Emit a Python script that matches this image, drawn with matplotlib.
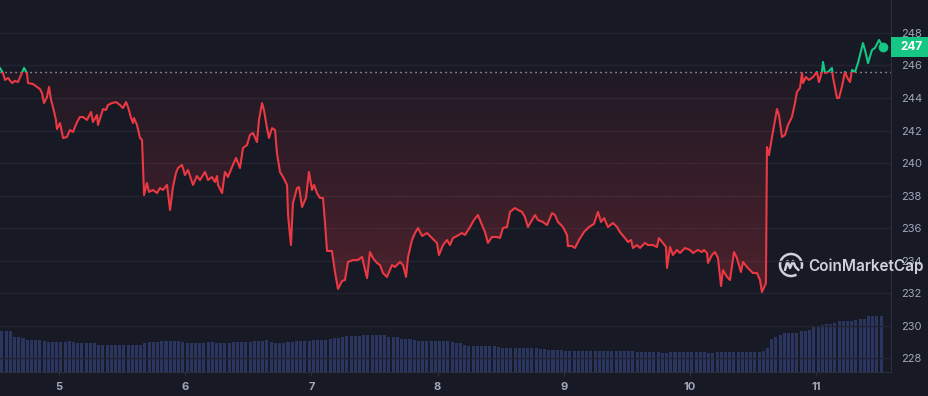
import numpy as np
import matplotlib
matplotlib.use("Agg")
import matplotlib.pyplot as plt
from matplotlib.patches import Rectangle, Circle, Arc, PathPatch
from matplotlib.path import Path
from matplotlib.transforms import blended_transform_factory, IdentityTransform

plt.rcParams['font.family'] = ['Inter', 'DejaVu Sans']

# price, x axis in days of the month
times = [4.533, 4.556, 4.572, 4.596, 4.628, 4.651, 4.675, 4.699, 4.723, 4.746,
         4.754, 4.794, 4.826, 4.849, 4.865, 4.881, 4.905, 4.921, 4.937, 4.952,
         4.976, 4.984, 5.008, 5.032, 5.063, 5.087, 5.111, 5.143, 5.166, 5.190,
         5.222, 5.254, 5.269, 5.301, 5.309, 5.349, 5.372, 5.388, 5.420, 5.452,
         5.483, 5.507, 5.531, 5.547, 5.571, 5.586, 5.594, 5.618, 5.642, 5.658,
         5.674, 5.697, 5.713, 5.745, 5.777, 5.800, 5.824, 5.856, 5.864, 5.880,
         5.903, 5.927, 5.943, 5.975, 5.998, 6.022, 6.062, 6.093, 6.117, 6.157,
         6.181, 6.212, 6.236, 6.252, 6.260, 6.292, 6.315, 6.339, 6.371, 6.403,
         6.434, 6.458, 6.490, 6.513, 6.537, 6.569, 6.585, 6.609, 6.624, 6.648,
         6.664, 6.688, 6.712, 6.727, 6.751, 6.775, 6.807, 6.815, 6.838, 6.854,
         6.886, 6.902, 6.926, 6.957, 6.981, 7.005, 7.021, 7.044, 7.068, 7.092,
         7.108, 7.124, 7.163, 7.187, 7.211, 7.243, 7.266, 7.290, 7.330, 7.369,
         7.401, 7.441, 7.464, 7.488, 7.520, 7.544, 7.567, 7.599, 7.639, 7.662,
         7.702, 7.726, 7.750, 7.766, 7.797, 7.821, 7.845, 7.877, 7.916, 7.956,
         7.995, 8.011, 8.043, 8.075, 8.098, 8.122, 8.154, 8.193, 8.217, 8.257,
         8.288, 8.320, 8.352, 8.376, 8.399, 8.431, 8.471, 8.494, 8.518, 8.550,
         8.574, 8.613, 8.637, 8.669, 8.692, 8.716, 8.748, 8.772, 8.796, 8.835,
         8.867, 8.907, 8.930, 8.954, 8.994, 9.025, 9.033, 9.065, 9.089, 9.120,
         9.160, 9.200, 9.239, 9.271, 9.295, 9.319, 9.350, 9.390, 9.422, 9.445,
         9.485, 9.509, 9.533, 9.548, 9.580, 9.604, 9.643, 9.667, 9.707, 9.738,
         9.754, 9.786, 9.810, 9.818, 9.842, 9.865, 9.897, 9.921, 9.960, 10.000,
         10.024, 10.063, 10.095, 10.111, 10.135, 10.143, 10.174, 10.198, 10.222, 10.246,
         10.262, 10.293, 10.317, 10.349, 10.372, 10.404, 10.420, 10.452, 10.475, 10.499,
         10.531, 10.555, 10.570, 10.602, 10.610, 10.626, 10.650, 10.674, 10.690, 10.705,
         10.729, 10.753, 10.777, 10.808, 10.832, 10.848, 10.872, 10.888, 10.896, 10.919,
         10.943, 10.975, 11.006, 11.022, 11.046, 11.054, 11.070, 11.094, 11.125, 11.133,
         11.165, 11.181, 11.204, 11.228, 11.244, 11.268, 11.284, 11.308, 11.331, 11.371,
         11.387, 11.411, 11.442, 11.466, 11.498, 11.529]
prices = [245.83, 245.54, 245.11, 245.23, 244.92, 245.05, 244.98, 245.42, 245.85, 245.54,
          244.92, 244.86, 244.68, 244.55, 244.31, 243.69, 244.06, 244.68, 243.88, 243.45,
          242.65, 242.09, 242.46, 241.54, 241.60, 242.03, 241.91, 242.52, 242.83, 242.83,
          242.65, 243.14, 242.52, 242.95, 242.34, 243.32, 243.26, 243.57, 243.69, 243.75,
          243.57, 243.38, 243.75, 243.45, 242.77, 242.46, 242.77, 242.34, 241.54, 241.42,
          238.03, 238.77, 238.22, 238.34, 238.15, 238.46, 238.34, 238.65, 238.15, 237.11,
          238.52, 239.38, 239.69, 239.88, 239.26, 239.57, 238.65, 239.20, 238.95, 239.45,
          238.95, 239.14, 238.83, 239.20, 238.65, 238.15, 239.45, 239.14, 239.75, 240.31,
          239.69, 240.92, 241.11, 241.72, 241.85, 241.29, 242.65, 243.69, 243.26, 242.15,
          241.54, 242.15, 242.03, 240.63, 239.45, 239.14, 238.65, 236.80, 234.95, 237.54,
          238.46, 238.52, 237.29, 237.85, 239.45, 238.34, 238.65, 238.15, 237.85, 237.85,
          236.31, 234.59, 234.59, 233.29, 232.25, 232.74, 232.80, 233.91, 234.03, 234.03,
          234.22, 232.92, 234.52, 234.15, 233.85, 233.72, 233.23, 232.99, 233.72, 233.60,
          233.91, 233.72, 232.99, 234.22, 235.26, 235.69, 236.00, 235.51, 235.69, 235.38,
          235.08, 234.34, 234.95, 235.26, 234.95, 235.38, 235.51, 235.69, 235.57, 236.06,
          236.49, 236.80, 236.18, 235.75, 235.08, 235.45, 235.45, 235.38, 236.00, 236.06,
          236.99, 237.23, 237.11, 236.99, 236.68, 236.06, 236.49, 236.80, 236.49, 236.37,
          236.18, 236.92, 236.80, 236.37, 236.06, 235.57, 234.89, 234.89, 234.77, 235.26,
          235.75, 236.06, 236.25, 236.99, 236.37, 236.61, 236.06, 236.31, 236.06, 235.75,
          235.38, 235.14, 235.26, 234.77, 234.95, 234.77, 235.08, 234.95, 234.95, 234.83,
          235.38, 235.08, 234.83, 233.54, 234.83, 234.34, 234.65, 234.46, 234.77, 234.65,
          234.46, 234.65, 234.52, 234.65, 234.46, 233.85, 234.34, 234.52, 234.15, 232.43,
          233.41, 232.99, 232.80, 234.52, 234.15, 233.29, 233.91, 233.60, 233.41, 233.23,
          233.23, 232.80, 232.06, 232.60, 240.98, 240.49, 241.60, 242.65, 243.32, 242.95,
          241.60, 241.72, 242.34, 242.83, 243.69, 244.37, 244.62, 245.54, 244.92, 245.29,
          245.11, 245.29, 245.60, 244.98, 245.60, 246.22, 245.54, 245.60, 245.85, 245.29,
          244.00, 244.00, 244.68, 245.60, 245.29, 244.98, 245.72, 245.60, 246.15, 247.38,
          246.95, 246.15, 246.95, 247.08, 247.57, 247.14]
open_price = 245.6

# volume bars (relative units), one bar every 1/30 day from 4.548
bar_start = 4.548
volume = [41, 41, 41, 35, 35, 34, 32, 31.5, 31.5, 31.5,
          31, 29.5, 29.5, 29.5, 29.5, 29.5, 30.5, 30, 29, 29,
          29, 29, 29, 27, 26.5, 26.5, 26.5, 26.5, 26.5, 26.5,
          26.5, 26.5, 26.5, 27, 29, 29.5, 30, 30, 30.5, 30.5,
          30.5, 30.5, 30.5, 30, 29, 29, 29, 29, 29, 29.5,
          29.5, 29, 29, 29, 29, 29.5, 30, 30, 30, 30,
          30.5, 31, 31, 31.5, 29.5, 29, 29, 29, 29.5, 30,
          30.5, 30.5, 30.5, 30.5, 31.5, 32, 32, 32, 33, 34,
          34, 35, 36, 36, 36, 36, 36.5, 37, 37, 37,
          37, 36.5, 35, 34.5, 34.5, 33, 33, 32.5, 31.5, 30.5,
          30.5, 30.5, 30.5, 30.5, 30.5, 30.5, 30.5, 30, 29, 28.5,
          27, 26, 26, 26, 26, 26, 26, 25.5, 24.5, 24,
          24, 24, 24, 24, 24, 24, 24, 24, 23, 22.5,
          22, 22, 22, 21.5, 20.5, 20.5, 20.5, 20.5, 20.5, 20.5,
          20.5, 20.5, 20.5, 20.5, 20.5, 20.5, 20.5, 20.5, 20.5, 20.5,
          20.5, 20, 19.5, 19.5, 19.5, 19.5, 19.5, 19, 18.5, 19.5,
          19.5, 19.5, 19.5, 19.5, 19.5, 19.5, 19.5, 19.5, 19, 18.5,
          19.5, 20, 20, 20, 20, 20, 20, 20, 20, 20,
          20, 20.5, 24, 33, 35, 37, 39, 39, 39, 39,
          40.5, 40.5, 42, 45, 45, 47, 48, 48, 48.5, 51,
          51, 51, 51, 52, 53, 53, 55.5, 55.5, 55.5, 55.5]

yticks = [228, 230, 232, 234, 236, 238, 240, 242, 244, 246, 248]
xticks = [5, 6, 7, 8, 9, 10, 11]

bg = '#171924'
red = '#ea3943'
green = '#16c784'
grid_c = '#222531'
label_c = '#a1a7bb'

t = np.array(times)
p = np.array(prices)
xlim = (4.5325, 11.593)
ylim = (227.14, 250.03)

fig = plt.figure(figsize=(9.29, 3.96), dpi=100, facecolor=bg)
ax = fig.add_axes([0, 1 - 372 / 396, 891 / 929, 372 / 396])
axv = ax.twinx()
ax.set_zorder(2)
axv.set_zorder(1)
ax.patch.set_visible(False)
axv.set_facecolor(bg)

# volume
bar_t = bar_start + np.arange(len(volume)) / 30
axv.bar(bar_t, volume, width=0.72 / 30, color='#2b3660', linewidth=0)
axv.set_ylim(0, max(volume) * 6.7)
axv.set_yticks([])
for s in axv.spines.values():
    s.set_visible(False)

# gradient fills between price and open line
def grad_fill(where, color, a_top, a_bot, y0, y1):
    coll = ax.fill_between(t, p, open_price, where=where, interpolate=True,
                           facecolor='none', edgecolor='none')
    path = Path.make_compound_path(*coll.get_paths())
    n = 256
    img = np.zeros((n, 1, 4))
    rgb = matplotlib.colors.to_rgb(color)
    img[:, 0, :3] = rgb
    img[:, 0, 3] = np.linspace(a_top, a_bot, n)
    im = ax.imshow(img, extent=[xlim[0], xlim[1], y0, y1], aspect='auto',
                   origin='upper', zorder=1)
    im.set_clip_path(path, transform=ax.transData)

grad_fill(p <= open_price, red, 0.04, 0.34, ylim[0], open_price)
grad_fill(p >= open_price, green, 0.14, 0.0, open_price, ylim[1])

# price line, coloured by side of the open line
line_r, = ax.plot(t, p, color=red, lw=1.5, zorder=3, solid_joinstyle='round')
line_g, = ax.plot(t, p, color=green, lw=1.5, zorder=3, solid_joinstyle='round')
clip_r = Rectangle((0, 200), 20, open_price - 200, transform=ax.transData)
clip_g = Rectangle((0, open_price), 20, 100, transform=ax.transData)
line_r.set_clip_path(clip_r)
line_g.set_clip_path(clip_g)

ax.axhline(open_price, color='#c8ccd6', lw=1.0, dashes=(0.8, 2.8), zorder=2)
ax.plot(t[-1], p[-1], 'o', color=green, ms=6, zorder=4, clip_on=False)

ax.set_xlim(*xlim)
ax.set_ylim(*ylim)
ax.yaxis.tick_right()
ax.set_yticks(yticks)
ax.set_yticklabels([str(v) for v in yticks])
ax.set_xticks(xticks)
ax.set_xticklabels([str(v) for v in xticks], fontweight='bold')
ax.tick_params(axis='y', length=0, pad=7, labelsize=8, labelcolor=label_c)
ax.tick_params(axis='x', length=3, color='#2b2e3b', pad=4, labelsize=8, labelcolor=label_c)
ax.grid(axis='y', color=grid_c, lw=1)
ax.set_axisbelow(True)
for s in ['top', 'left']:
    ax.spines[s].set_visible(False)
for s in ['right', 'bottom']:
    ax.spines[s].set_color('#2b2e3b')

# last price tag
tr = blended_transform_factory(ax.transAxes, ax.transData)
ax.add_patch(Rectangle((1.0, p[-1] - 0.6), 40 / 891, 1.2, transform=tr,
                       facecolor=green, edgecolor='none', clip_on=False, zorder=10))
ax.text(1.0 + 20 / 891, p[-1], str(int(round(p[-1]))), transform=tr, ha='center', va='center',
        color='white', fontsize=8.5, fontweight='bold', zorder=11, clip_on=False)

# watermark
idt = IdentityTransform()
wm = '#cfd2da'
cx, cy = 791, 396 - 265
fig.add_artist(Arc((cx, cy), 22, 22, theta1=-20, theta2=300, transform=idt,
                   color=wm, lw=1.8))
m_path = Path([(cx - 6, cy - 5), (cx - 3.5, cy + 4), (cx - 1, cy - 3),
               (cx + 2, cy + 4), (cx + 4.5, cy - 2), (cx + 7.5, cy - 5)])
fig.add_artist(PathPatch(m_path, transform=idt, facecolor='none', edgecolor=wm,
                         lw=1.8, capstyle='round', joinstyle='round'))
fig.text(808 / 929, 1 - 266 / 396, 'CoinMarketCap', ha='left', va='center',
         color=wm, fontsize=11, fontweight='semibold')

fig.savefig('out.png', dpi=100, facecolor=bg)
